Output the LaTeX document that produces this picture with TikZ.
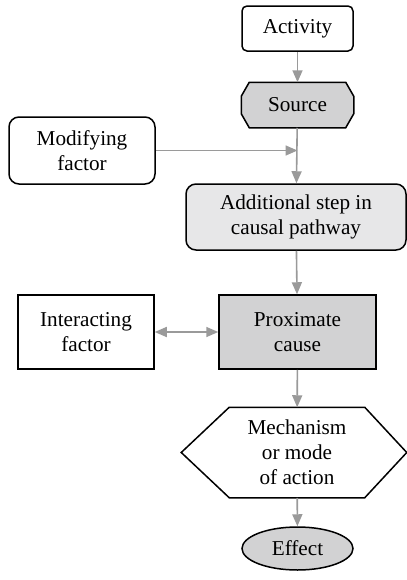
\documentclass[tikz,border=0pt]{standalone}
\usepackage{fontspec}
\setmainfont{Liberation Serif}
\usetikzlibrary{arrows.meta,shapes.geometric}

\definecolor{boxgray}{HTML}{D2D2D3}
\definecolor{stepgray}{HTML}{E7E7E8}
\definecolor{arrowgray}{HTML}{9A9A9A}

\tikzset{
  box/.style={draw=black, line width=0.75pt, align=center, inner sep=2pt,
    font=\fontsize{10.6}{12.5}\selectfont},
  link/.style={draw=arrowgray, line width=0.8pt, -{Triangle[length=6pt,width=5pt]}},
}

\begin{document}
\begin{tikzpicture}[x=0.5pt,y=-0.5pt]
\useasboundingbox (0,0) rectangle (407,580);

% the main pathway
\node[box, rounded corners=2.5pt, minimum width=55.5pt, minimum height=22.5pt] (act) at (297.5,28.5) {Activity};
\node[box, draw=none, minimum width=55.5pt, minimum height=22pt] (src) at (297.5,105) {};
\node[box, rounded corners=5pt, fill=stepgray, minimum width=110pt, minimum height=33pt] (step) at (296,217) {Additional step in\\causal pathway};
\node[box, fill=boxgray, minimum width=78.5pt, minimum height=37pt] (prox) at (297.5,332) {Proximate\\cause};
\node[box, draw=none, minimum width=67pt, minimum height=44.5pt] (mech) at (297,452.5) {};
\node[box, ellipse, fill=boxgray, minimum width=55.5pt, minimum height=21.5pt] (eff) at (297.5,548.5) {Effect};

% the factors on the left
\node[box, rounded corners=5pt, minimum width=73pt, minimum height=33.5pt] (mod) at (82,150.5) {Modifying\\factor};
\node[box, minimum width=68pt, minimum height=37pt] (inter) at (86,332) {Interacting\\factor};

% the cut corners of the source
\filldraw[fill=boxgray, line width=0.75pt] ([xshift=4pt]src.north west) -- ([xshift=-4pt]src.north east)
  -- ([yshift=-7pt]src.north east) -- ([yshift=7pt]src.south east) -- ([xshift=-4pt]src.south east)
  -- ([xshift=4pt]src.south west) -- ([yshift=7pt]src.south west) -- ([yshift=-7pt]src.north west) -- cycle;
\node[box, draw=none] (srctext) at (src) {Source};

% the hexagon round the mechanism
\draw[line width=0.75pt] (mech.north west) -- (mech.north east) -- ([xshift=21pt]mech.east)
  -- (mech.south east) -- (mech.south west) -- ([xshift=-24pt]mech.west) -- cycle;
\node[box, draw=none] (mechtext) at (mech) {Mechanism\\or mode\\of action};

% arrows
\draw[link] (act) -- (src);
\draw[link] (src) -- (step);
\draw[link] (mod.east) -- (mod.east -| src.south);
\draw[link] (step) -- (prox);
\draw[link, {Triangle[length=6pt,width=5pt]}-{Triangle[length=6pt,width=5pt]}] (inter) -- (prox);
\draw[link] (prox) -- (mech);
\draw[link] (mech) -- (eff);
\end{tikzpicture}
\end{document}
